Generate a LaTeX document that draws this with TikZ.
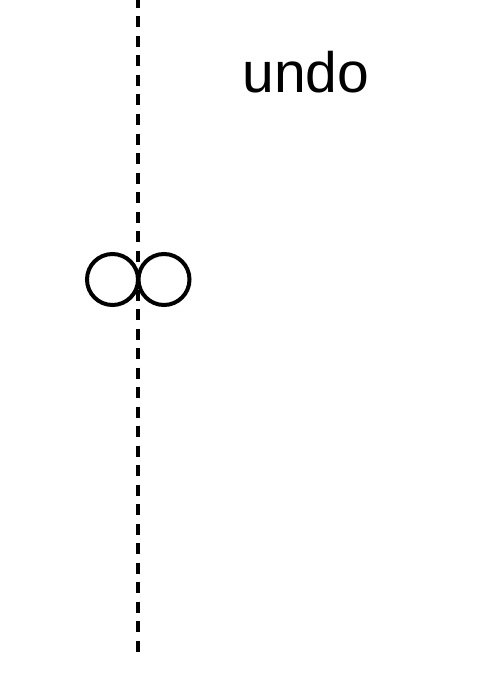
\documentclass[tikz,border=0pt]{standalone}
\usepackage{fontspec}
\setmainfont{Liberation Sans}
\begin{document}
\begin{tikzpicture}[x=1pt,y=-1pt,
  lifeline/.style={line width=4pt,dash pattern=on 11pt off 8.5pt,dash phase=3pt},
  ring/.style={circle,draw,line width=4pt,minimum size=51pt,inner sep=0pt},
  lbl/.style={font=\fontsize{57}{68}\selectfont,inner sep=0pt}]
\useasboundingbox (0,0) rectangle (500,682);
\coordinate (top) at (138,0);
\coordinate (bot) at (138,658);
\draw[lifeline] (top) -- (bot);
\node[ring] (c1) at (112.5,279.5) {};
\node[ring] (c2) at (164,279.5) {};
\node[lbl,anchor=base] (undo) at (306,93) {undo};
\end{tikzpicture}
\end{document}
